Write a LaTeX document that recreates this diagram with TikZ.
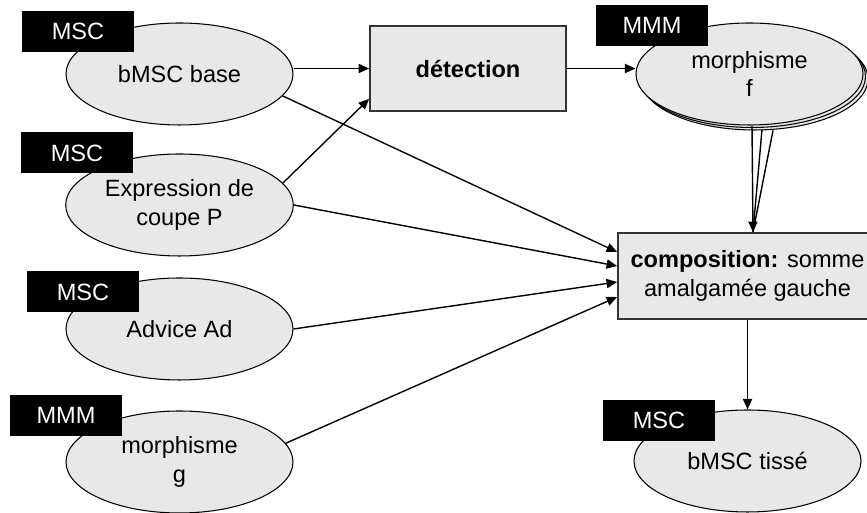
\documentclass[tikz,border=0pt]{standalone}
\usepackage{fontspec}
\setmainfont{Liberation Sans}
\usetikzlibrary{arrows.meta,shapes.geometric,shadows}

\newcommand\figfont{\fontsize{13.4}{16.2}\selectfont}

\begin{document}
\begin{tikzpicture}[>={Triangle[length=6pt,width=5.2pt]},
  every node/.style={font=\figfont},
  elt/.style={draw, ellipse, fill=gray!18, line width=0.6pt, align=center,
    minimum width=4.54cm, minimum height=2.04cm},
  tag/.style={fill=black, text=white, inner sep=0pt,
    minimum width=2.24cm, minimum height=0.82cm},
  op/.style={draw=black!80, fill=gray!18, line width=1pt, align=center},
  conn/.style={->, line width=0.8pt}]
\useasboundingbox (0,0) rectangle (17.34,10.26);
\clip (0,0) rectangle (17.34,10.26);

\node[elt] (base) at (3.59,8.78) {bMSC base};
\node[elt] (expr) at (3.59,6.16) {Expression de\\coupe P};
\node[elt] (adv) at (3.59,3.68) {Advice Ad};
\node[elt] (mg) at (3.59,1.02) {morphisme\\g};
\node[op, font=\figfont\bfseries, minimum width=3.92cm, minimum height=1.7cm] (det) at (9.36,8.89) {détection};
\node[elt, double copy shadow={shadow xshift=0.05cm, shadow yshift=-0.05cm, draw=black, fill=gray!18}] (mf) at (14.99,8.78) {morphisme\\f};
\node[op, minimum width=5.18cm, minimum height=1.72cm] (comp) at (14.95,4.74) {\textbf{composition:} somme\\amalgamée gauche};
\node[elt] (tisse) at (14.95,1.04) {bMSC tissé};

\node[tag] (t1) at (1.56,9.63) {MSC};
\node[tag] (t2) at (1.54,7.20) {MSC};
\node[tag] (t3) at (1.66,4.42) {MSC};
\node[tag] (t4) at (1.32,1.95) {MMM};
\node[tag] (t5) at (13.04,9.75) {MMM};
\node[tag] (t6) at (13.18,1.85) {MSC};

\draw[conn] (base.east |- det.west) -- (det.west);
\draw[conn] (det.east) -- (det.east -| mf.west);
\draw[conn] (base.-12) -- ([yshift=0.48cm]comp.west);
\draw[conn] (expr.12) -- ([yshift=0.26cm]det.south west);
\draw[conn] (expr.east) -- ([yshift=0.2cm]comp.west);
\draw[conn] (adv.east) -- ([yshift=-0.12cm]comp.west);
\draw[conn] (mg.10) -- ([yshift=-0.42cm]comp.west);
\draw[conn] ([xshift=0.05cm]mf.south) -- ([xshift=0.11cm]comp.north);
\draw[line width=0.8pt] ([xshift=0.25cm,yshift=-0.08cm]mf.south) -- ([xshift=0.11cm]comp.north);
\draw[line width=0.8pt] ([xshift=0.47cm,yshift=-0.1cm]mf.south) -- ([xshift=0.11cm]comp.north);
\draw[conn] (comp) -- (tisse);
\end{tikzpicture}
\end{document}
